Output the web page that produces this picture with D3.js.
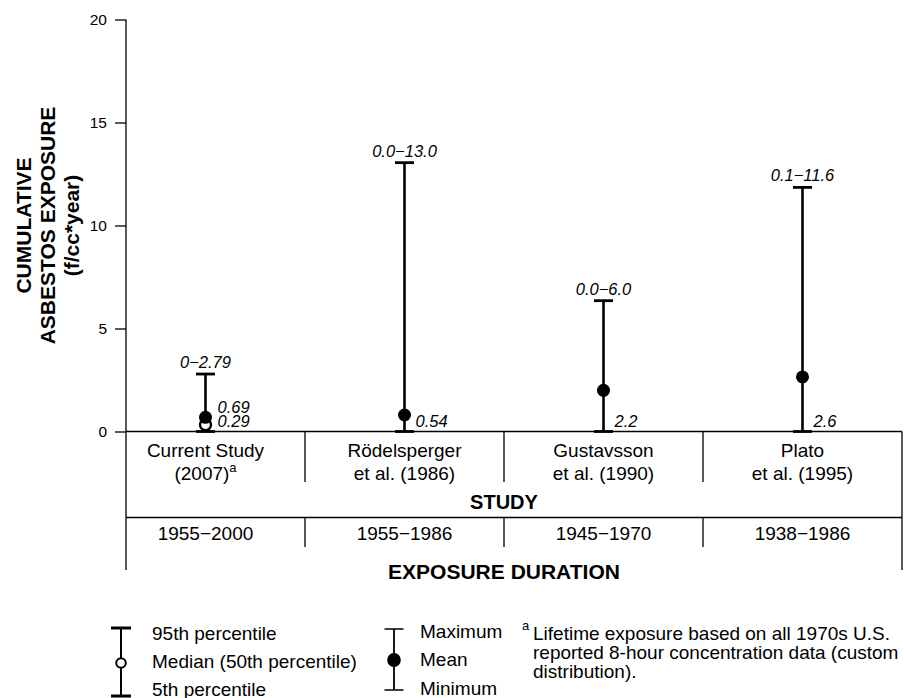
<html><head>
<meta charset="utf-8">
<script src="https://cdnjs.cloudflare.com/ajax/libs/d3/7.8.5/d3.min.js"></script>
<style>
  body {
    margin: 0;
    padding: 0;
    background: #fff;
    font-family: "Liberation Sans", Arial, Helvetica, sans-serif;
  }
  svg text {
    fill: #000;
  }
</style>
</head>
<body>
<div id="chart"></div>

<script>
// data
const studies = ["Current Study", "R\u00f6delsperger", "Gustavsson", "Plato"];
const studyLine2 = ["(2007)", "et al. (1986)", "et al. (1990)", "et al. (1995)"];
const studyNote = ["a", "", "", ""];
const durations = ["1955\u22122000", "1955\u22121986", "1945\u22121970", "1938\u22121986"];

const minValues = [0, 0, 0, 0];
const maxValues = [2.79, 13.05, 6.35, 11.85];
const meanValues = [0.69, 0.8, 2.0, 2.65];
const medianValues = [0.33, null, null, null];

const rangeLabels = ["0\u22122.79", "0.0\u221213.0", "0.0\u22126.0", "0.1\u221211.6"];
const meanLabels = ["0.69", "0.54", "2.2", "2.6"];
const medianLabels = ["0.29", null, null, null];

const yTicks = [0, 5, 10, 15, 20];
const yTitle = ["CUMULATIVE", "ASBESTOS EXPOSURE", "(f/cc*year)"];
const legendA = ["95th percentile", "Median (50th percentile)", "5th percentile"];
const legendB = ["Maximum", "Mean", "Minimum"];
const footnote = ["Lifetime exposure based on all 1970s U.S.",
                  "reported 8-hour concentration data (custom",
                  "distribution)."];

const width = 904, height = 698;
const axisX = 126;

const svg = d3.select("#chart").append("svg")
  .attr("width", width)
  .attr("height", height);

const x = d3.scaleBand()
  .domain(studies)
  .range([106, 902]);

const y = d3.scaleLinear()
  .domain([0, 20])
  .range([431.5, 19.5]);

const cx = d => x(d) + x.bandwidth() / 2;

// y axis
const yAxis = svg.append("g")
  .attr("transform", `translate(${axisX},0)`)
  .call(d3.axisLeft(y).tickValues(yTicks).tickSize(11).tickPadding(8).tickFormat(d3.format("d")));
yAxis.select(".domain").remove();
yAxis.selectAll(".tick line").attr("stroke", "#000").attr("stroke-width", 1.3);
yAxis.selectAll(".tick text")
  .attr("font-size", "15.5px")
  .attr("font-family", "Liberation Sans, Arial, sans-serif")
  .attr("fill", "#000");

const lines = svg.append("g").attr("stroke", "#000").attr("stroke-width", 1.3);

// axis line through the table
lines.append("line").attr("x1", axisX).attr("x2", axisX).attr("y1", y(20)).attr("y2", 570);
// zero line
lines.append("line").attr("x1", axisX).attr("x2", 902).attr("y1", y(0)).attr("y2", y(0));
// right border
lines.append("line").attr("x1", 902).attr("x2", 902).attr("y1", y(0)).attr("y2", 570);
// row separator
lines.append("line").attr("x1", axisX).attr("x2", 902).attr("y1", 517.5).attr("y2", 517.5);

// column dividers
studies.slice(1).forEach(s => {
  lines.append("line").attr("x1", x(s)).attr("x2", x(s)).attr("y1", y(0)).attr("y2", 482);
  lines.append("line").attr("x1", x(s)).attr("x2", x(s)).attr("y1", 517.5).attr("y2", 547);
});

// y title
const yt = svg.append("text")
  .attr("transform", `translate(0,${y(10)}) rotate(-90)`)
  .attr("text-anchor", "middle")
  .attr("font-weight", "bold")
  .attr("font-size", "21px");
[30.5, 55, 79].forEach((bx, i) => {
  yt.append("tspan").attr("x", 0).attr("y", bx).text(yTitle[i]);
});

// whiskers
const capW = 19;
const marks = svg.append("g");
studies.forEach((s, i) => {
  const px = cx(s);
  const g = marks.append("g");
  g.append("line")
    .attr("x1", px).attr("x2", px)
    .attr("y1", y(minValues[i])).attr("y2", y(maxValues[i]))
    .attr("stroke", "#000").attr("stroke-width", 2.6);
  [minValues[i], maxValues[i]].forEach(v => {
    g.append("line")
      .attr("x1", px - capW / 2).attr("x2", px + capW / 2)
      .attr("y1", y(v)).attr("y2", y(v))
      .attr("stroke", "#000").attr("stroke-width", 2.8);
  });
  if (medianValues[i] != null) {
    g.append("circle")
      .attr("cx", px).attr("cy", y(medianValues[i])).attr("r", 5.5)
      .attr("fill", "#fff").attr("stroke", "#000").attr("stroke-width", 2.4);
  }
  g.append("circle")
    .attr("cx", px).attr("cy", y(meanValues[i])).attr("r", 6.5)
    .attr("fill", "#000");

  // range label
  g.append("text")
    .attr("x", px).attr("y", y(maxValues[i]) - 6)
    .attr("text-anchor", "middle")
    .attr("font-style", "italic")
    .attr("font-size", "16.5px")
    .text(rangeLabels[i]);

  const baseY = y(0) - 4.5;
  if (medianLabels[i] != null) {
    g.append("text")
      .attr("x", px + 12).attr("y", y(meanValues[i]) - 4.5)
      .attr("font-style", "italic").attr("font-size", "16.5px")
      .text(meanLabels[i]);
    g.append("text")
      .attr("x", px + 12).attr("y", baseY)
      .attr("font-style", "italic").attr("font-size", "16.5px")
      .text(medianLabels[i]);
  } else {
    g.append("text")
      .attr("x", px + 11).attr("y", baseY)
      .attr("font-style", "italic").attr("font-size", "16.5px")
      .text(meanLabels[i]);
  }
});

// table text
const table = svg.append("g").attr("font-size", "19px").attr("text-anchor", "middle");
studies.forEach((s, i) => {
  const px = cx(s);
  table.append("text").attr("x", px).attr("y", 456.5).text(s);
  const t2 = table.append("text").attr("x", px).attr("y", 479.5).text(studyLine2[i]);
  if (studyNote[i]) {
    t2.append("tspan").attr("font-size", "13px").attr("dy", -8).text(studyNote[i]);
  }
  table.append("text").attr("x", px).attr("y", 540).text(durations[i]);
});

table.append("text")
  .attr("x", (axisX + 902) / 2 - 10).attr("y", 509)
  .attr("font-weight", "bold").attr("font-size", "20px")
  .text("STUDY");
table.append("text")
  .attr("x", (axisX + 902) / 2 - 10).attr("y", 579)
  .attr("font-weight", "bold").attr("font-size", "21px")
  .text("EXPOSURE DURATION");

// legend 1: percentiles
const leg = svg.append("g");
const l1x = 121;
leg.append("line").attr("x1", l1x).attr("x2", l1x).attr("y1", 628).attr("y2", 696)
  .attr("stroke", "#000").attr("stroke-width", 2);
[628, 696].forEach(ly => {
  leg.append("line").attr("x1", l1x - 10).attr("x2", l1x + 10).attr("y1", ly).attr("y2", ly)
    .attr("stroke", "#000").attr("stroke-width", 3);
});
leg.append("circle").attr("cx", l1x).attr("cy", 663).attr("r", 4.8)
  .attr("fill", "#fff").attr("stroke", "#000").attr("stroke-width", 2);
[640, 668, 695.5].forEach((ly, i) => {
  leg.append("text").attr("x", 152).attr("y", ly).attr("font-size", "19px").text(legendA[i]);
});

// legend 2: range
const l2x = 394;
leg.append("line").attr("x1", l2x).attr("x2", l2x).attr("y1", 629).attr("y2", 690)
  .attr("stroke", "#000").attr("stroke-width", 1.8);
[629, 690].forEach(ly => {
  leg.append("line").attr("x1", l2x - 9.5).attr("x2", l2x + 9.5).attr("y1", ly).attr("y2", ly)
    .attr("stroke", "#000").attr("stroke-width", 1.5);
});
leg.append("ellipse").attr("cx", l2x).attr("cy", 660).attr("rx", 6.8).attr("ry", 7)
  .attr("fill", "#000");
[638, 666, 695].forEach((ly, i) => {
  leg.append("text").attr("x", 420).attr("y", ly).attr("font-size", "19px").text(legendB[i]);
});

// footnote
leg.append("text").attr("x", 522).attr("y", 630).attr("font-size", "13px").text("a");
[640, 659, 678].forEach((ly, i) => {
  leg.append("text").attr("x", 533).attr("y", ly).attr("font-size", "19px").text(footnote[i]);
});
</script>
</body></html>
